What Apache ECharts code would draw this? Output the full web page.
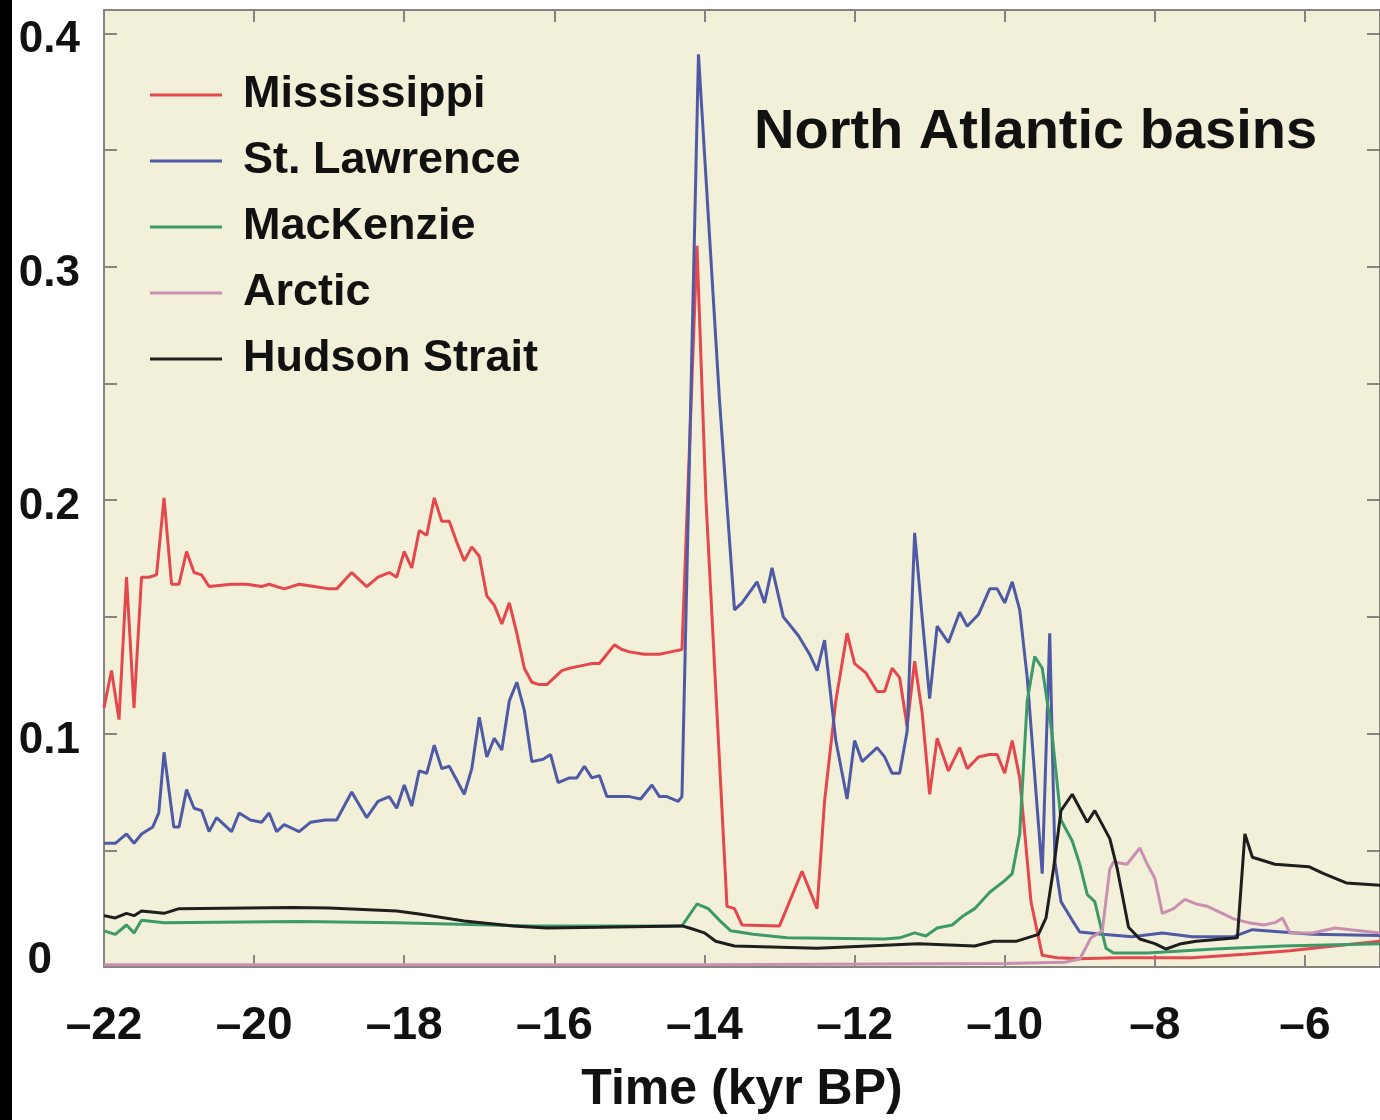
<!DOCTYPE html>
<html>
<head>
<meta charset="utf-8">
<script src="https://cdn.jsdelivr.net/npm/echarts@6/dist/echarts.min.js"></script>
<style>
  html, body { margin: 0; padding: 0; background: #fff; }
  #chart { width: 1380px; height: 1120px; }
</style>
</head>
<body>
<div id="chart"></div>
<script>
// freshwater flux per basin, [time kyr BP, value]
const mississippi = [
  [-22.0,0.111],[-21.9,0.127],[-21.8,0.106],[-21.7,0.167],[-21.6,0.111],[-21.5,0.167],[-21.4,0.167],[-21.3,0.168],
  [-21.2,0.201],[-21.1,0.164],[-21.0,0.164],[-20.9,0.178],[-20.8,0.169],[-20.7,0.168],[-20.6,0.163],[-20.3,0.164],
  [-20.1,0.164],[-19.9,0.163],[-19.8,0.164],[-19.6,0.162],[-19.4,0.164],[-19.2,0.163],[-19.0,0.162],[-18.9,0.162],
  [-18.7,0.169],[-18.5,0.163],[-18.35,0.167],[-18.2,0.169],[-18.1,0.167],[-18.0,0.178],[-17.9,0.171],[-17.8,0.187],
  [-17.7,0.185],[-17.6,0.201],[-17.5,0.191],[-17.4,0.191],[-17.3,0.182],[-17.2,0.174],[-17.1,0.18],[-17.0,0.176],
  [-16.9,0.159],[-16.8,0.155],[-16.7,0.147],[-16.6,0.156],[-16.5,0.143],[-16.4,0.128],[-16.3,0.122],[-16.2,0.121],
  [-16.1,0.121],[-16.0,0.124],[-15.9,0.127],[-15.8,0.128],[-15.65,0.129],[-15.5,0.130],[-15.4,0.130],[-15.3,0.134],
  [-15.2,0.138],[-15.1,0.136],[-15.0,0.135],[-14.8,0.134],[-14.6,0.134],[-14.45,0.135],[-14.3,0.136],[-14.1,0.309],
  [-13.98,0.2],[-13.7,0.026],[-13.6,0.025],[-13.5,0.018],[-13.0,0.0176],[-12.7,0.041],[-12.5,0.025],[-12.4,0.071],
  [-12.25,0.114],[-12.1,0.143],[-12.0,0.130],[-11.85,0.126],[-11.7,0.118],[-11.6,0.118],[-11.5,0.128],[-11.4,0.124],
  [-11.3,0.103],[-11.2,0.131],[-11.1,0.109],[-11.0,0.074],[-10.9,0.098],[-10.75,0.084],[-10.6,0.094],[-10.5,0.085],
  [-10.35,0.090],[-10.2,0.091],[-10.1,0.091],[-10.0,0.083],[-9.9,0.097],[-9.8,0.081],[-9.65,0.028],[-9.5,0.005],
  [-9.3,0.004],[-9.0,0.0035],[-8.5,0.004],[-8.0,0.004],[-7.5,0.004],[-6.8,0.0055],[-6.2,0.007],[-5.9,0.008],[-5.0,0.011]
];
const stLawrence = [
  [-22.0,0.053],[-21.85,0.053],[-21.7,0.057],[-21.6,0.053],[-21.5,0.057],[-21.35,0.060],[-21.27,0.066],[-21.2,0.092],
  [-21.07,0.060],[-21.0,0.060],[-20.9,0.076],[-20.8,0.068],[-20.7,0.067],[-20.6,0.058],[-20.5,0.064],[-20.4,0.061],
  [-20.3,0.058],[-20.2,0.066],[-20.05,0.063],[-19.9,0.062],[-19.8,0.066],[-19.7,0.058],[-19.6,0.061],[-19.4,0.058],
  [-19.25,0.062],[-19.05,0.063],[-18.9,0.063],[-18.7,0.075],[-18.5,0.064],[-18.35,0.071],[-18.2,0.073],[-18.1,0.068],
  [-18.0,0.078],[-17.9,0.069],[-17.8,0.084],[-17.7,0.083],[-17.6,0.095],[-17.5,0.085],[-17.4,0.086],[-17.3,0.080],
  [-17.2,0.074],[-17.1,0.085],[-17.0,0.107],[-16.9,0.090],[-16.8,0.098],[-16.7,0.093],[-16.6,0.114],[-16.5,0.122],
  [-16.4,0.110],[-16.3,0.088],[-16.15,0.089],[-16.05,0.091],[-15.95,0.079],[-15.8,0.081],[-15.7,0.081],[-15.6,0.086],
  [-15.5,0.081],[-15.4,0.082],[-15.3,0.073],[-15.15,0.073],[-15.0,0.073],[-14.85,0.072],[-14.7,0.078],[-14.6,0.073],
  [-14.5,0.073],[-14.35,0.071],[-14.3,0.073],[-14.08,0.391],[-13.8,0.243],[-13.6,0.153],[-13.5,0.156],[-13.3,0.165],
  [-13.2,0.156],[-13.1,0.171],[-12.95,0.150],[-12.75,0.142],[-12.6,0.134],[-12.5,0.127],[-12.4,0.140],[-12.25,0.097],
  [-12.1,0.072],[-12.0,0.097],[-11.9,0.088],[-11.7,0.094],[-11.6,0.090],[-11.5,0.083],[-11.4,0.083],[-11.3,0.101],
  [-11.2,0.186],[-11.1,0.150],[-11.0,0.115],[-10.9,0.146],[-10.75,0.139],[-10.6,0.152],[-10.5,0.146],[-10.35,0.151],
  [-10.2,0.162],[-10.1,0.162],[-10.0,0.156],[-9.9,0.165],[-9.8,0.153],[-9.7,0.124],[-9.5,0.040],[-9.4,0.143],
  [-9.33,0.045],[-9.25,0.028],[-9.1,0.020],[-9.0,0.015],[-8.7,0.014],[-8.3,0.013],[-7.9,0.0146],[-7.5,0.013],
  [-6.95,0.013],[-6.7,0.016],[-6.3,0.015],[-5.9,0.014],[-5.0,0.0135]
];
const mackenzie = [
  [-22.0,0.0155],[-21.85,0.014],[-21.7,0.018],[-21.6,0.0146],[-21.5,0.020],[-21.2,0.019],[-19.4,0.0195],[-18.1,0.019],
  [-16.3,0.0176],[-14.3,0.0176],[-14.1,0.027],[-13.95,0.025],[-13.8,0.020],[-13.65,0.0155],[-13.35,0.014],[-12.9,0.0125],
  [-11.6,0.012],[-11.4,0.0125],[-11.2,0.0146],[-11.05,0.0133],[-10.9,0.0167],[-10.7,0.018],[-10.55,0.022],[-10.4,0.025],
  [-10.2,0.032],[-10.0,0.037],[-9.9,0.040],[-9.8,0.057],[-9.7,0.114],[-9.6,0.133],[-9.5,0.128],[-9.37,0.100],
  [-9.25,0.063],[-9.1,0.054],[-9.0,0.044],[-8.9,0.031],[-8.8,0.028],[-8.65,0.008],[-8.55,0.006],[-8.1,0.006],
  [-7.2,0.0077],[-6.3,0.009],[-5.0,0.010]
];
const arctic = [
  [-22.0,0.001],[-14.0,0.001],[-10.0,0.0015],[-9.2,0.002],[-9.0,0.0034],[-8.85,0.0125],[-8.7,0.0155],[-8.6,0.042],
  [-8.55,0.045],[-8.37,0.044],[-8.2,0.051],[-8.1,0.044],[-8.0,0.038],[-7.9,0.023],[-7.75,0.025],[-7.6,0.029],
  [-7.45,0.027],[-7.3,0.026],[-7.1,0.023],[-6.95,0.0206],[-6.75,0.019],[-6.55,0.018],[-6.4,0.019],[-6.3,0.021],
  [-6.2,0.0146],[-5.9,0.0146],[-5.6,0.0167],[-5.0,0.0146]
];
const hudsonStrait = [
  [-22.0,0.022],[-21.85,0.021],[-21.7,0.023],[-21.6,0.022],[-21.5,0.024],[-21.2,0.023],[-21.0,0.025],[-19.5,0.0255],
  [-19.0,0.0253],[-18.1,0.024],[-17.8,0.0227],[-17.2,0.0197],[-16.55,0.0176],[-16.1,0.0167],[-15.4,0.017],[-14.3,0.0176],
  [-14.2,0.0167],[-14.0,0.0146],[-13.85,0.011],[-13.6,0.009],[-12.5,0.008],[-11.15,0.010],[-10.4,0.009],[-10.15,0.011],
  [-9.85,0.011],[-9.55,0.014],[-9.45,0.021],[-9.35,0.042],[-9.25,0.067],[-9.1,0.074],[-8.9,0.062],[-8.8,0.067],
  [-8.6,0.055],[-8.5,0.042],[-8.35,0.017],[-8.2,0.012],[-8.0,0.010],[-7.85,0.0077],[-7.65,0.010],[-7.45,0.011],
  [-7.1,0.012],[-6.9,0.0125],[-6.8,0.057],[-6.7,0.047],[-6.4,0.044],[-5.95,0.043],[-5.75,0.040],[-5.45,0.036],[-5.0,0.035]
];

const seriesNames = ["Mississippi", "St. Lawrence", "MacKenzie", "Arctic", "Hudson Strait"];
const seriesValues = [mississippi, stLawrence, mackenzie, arctic, hudsonStrait];
const seriesColors = ["#e4484e", "#4e5aa6", "#3b9a68", "#c98fb0", "#1e1e1e"];

const FONT = "'Liberation Sans', Arial, Helvetica, sans-serif";
const frame = { color: "#85847e", width: 2 };

const chart = echarts.init(document.getElementById("chart"), null, { renderer: "canvas" });

const xBase = {
    type: "value",
    min: -22,
    max: -5,
    interval: 2,
    splitLine: { show: false },
    axisLine: { show: true, onZero: false, lineStyle: frame },
    axisTick: { show: true, inside: true, length: 12, lineStyle: frame },
};
const yBase = {
    type: "value",
    min: 0,
    max: 0.41,
    interval: 0.05,
    splitLine: { show: false },
    axisLine: { show: true, onZero: false, lineStyle: frame },
    axisTick: { show: true, inside: true, length: 13, lineStyle: frame },
};

chart.setOption({
    animation: false,
    backgroundColor: "#ffffff",
    textStyle: { fontFamily: FONT },
    title: {
        text: "North Atlantic basins",
        left: 754,
        top: 105,
        padding: 0,
        textStyle: { fontFamily: FONT, fontSize: 56, fontWeight: "bold", color: "#111" },
    },
    legend: {
        data: seriesNames,
        orient: "vertical",
        left: 150,
        top: 72,
        padding: 0,
        icon: "rect",
        itemWidth: 72,
        itemHeight: 3,
        itemGap: 20,
        textStyle: { fontFamily: FONT, fontSize: 45, fontWeight: "bold", color: "#111", lineHeight: 46, padding: [0, 0, 0, 16] },
    },
    grid: {
        left: 104,
        right: -7,
        top: 10,
        bottom: 153,
        show: true,
        backgroundColor: "#f2f0d9",
        borderWidth: 0,
    },
    xAxis: [
        Object.assign({}, xBase, {
            position: "bottom",
            name: "Time (kyr BP)",
            nameLocation: "middle",
            nameGap: 98,
            nameTextStyle: { fontFamily: FONT, fontSize: 50, fontWeight: "bold", color: "#111" },
            axisLabel: {
                margin: 36,
                fontFamily: FONT,
                fontSize: 46,
                fontWeight: "bold",
                color: "#111",
                showMaxLabel: false,
                formatter: (v) => String(v).replace("-", "\u2013"),
            },
        }),
        Object.assign({}, xBase, { position: "top", axisLabel: { show: false } }),
    ],
    yAxis: [
        Object.assign({}, yBase, {
            position: "left",
            axisLabel: {
                margin: 24,
                showMaxLabel: false,
                formatter: (v) => {
                    if (Math.abs(v * 10 - Math.round(v * 10)) > 1e-6) return "";
                    return v === 0 ? "{z|0}" : "{a|" + v.toFixed(1) + "}";
                },
                rich: {
                    a: { fontFamily: FONT, fontSize: 44, fontWeight: "bold", color: "#111", padding: [14, 0, 0, 0] },
                    z: { fontFamily: FONT, fontSize: 44, fontWeight: "bold", color: "#111", padding: [0, 28, 12, 0] },
                },
            },
        }),
        Object.assign({}, yBase, { position: "right", axisLabel: { show: false } }),
    ],
    graphic: [
        { type: "rect", left: 0, top: 0, z: 100, shape: { width: 12, height: 1120 }, style: { fill: "#000" } },
    ],
    series: seriesNames.map((name, i) => ({
        name,
        type: "line",
        data: seriesValues[i],
        symbol: "none",
        showSymbol: false,
        color: seriesColors[i],
        lineStyle: { color: seriesColors[i], width: 3 },
    })),
});
</script>
</body>
</html>
